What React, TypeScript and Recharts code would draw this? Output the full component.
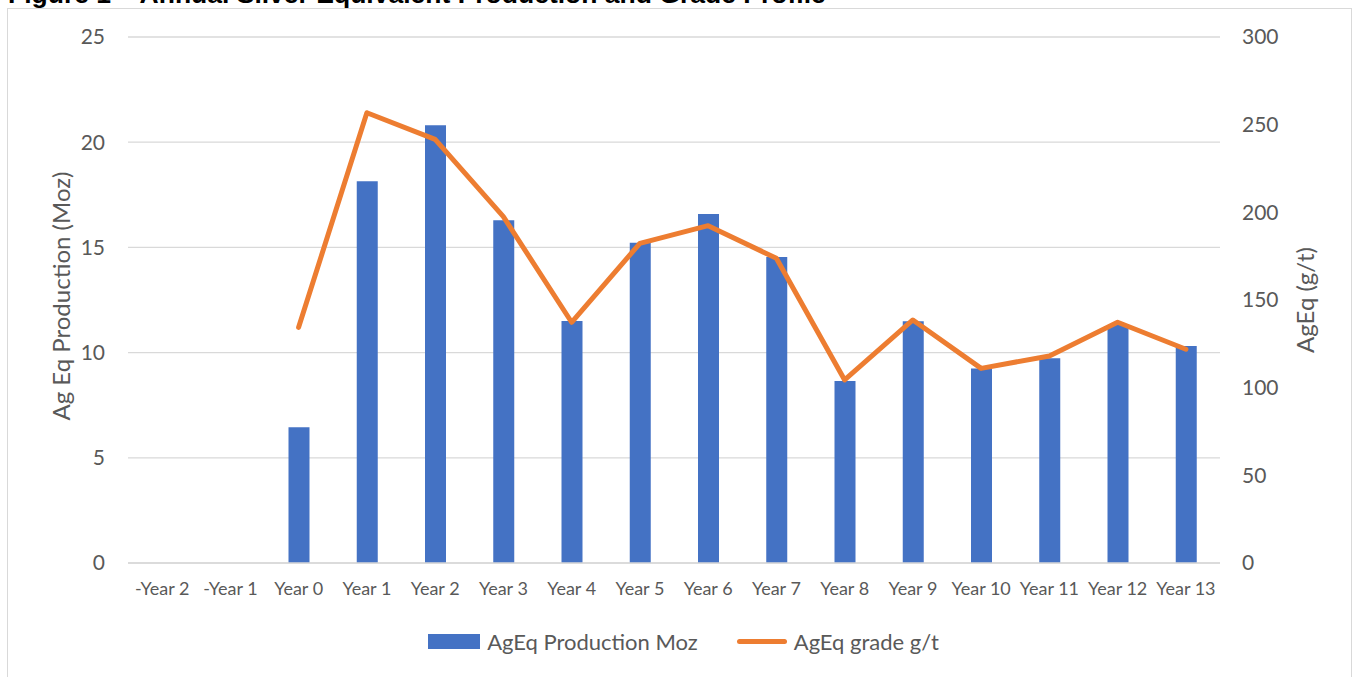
import React from 'react';
import { ComposedChart, Bar, Line, XAxis, YAxis, CartesianGrid, Legend } from 'recharts';

const categories = ['-Year 2', '-Year 1', 'Year 0', 'Year 1', 'Year 2', 'Year 3', 'Year 4', 'Year 5', 'Year 6', 'Year 7', 'Year 8', 'Year 9', 'Year 10', 'Year 11', 'Year 12', 'Year 13'];
const productionMoz = [null, null, 6.45, 18.14, 20.8, 16.29, 11.5, 15.22, 16.59, 14.54, 8.65, 11.49, 9.25, 9.73, 11.31, 10.31];
const gradeGpt = [null, null, 134.4, 256.8, 241.6, 197.5, 137.3, 182.3, 192.4, 173.8, 104.4, 138.6, 111.0, 118.1, 137.3, 121.9];
const leftTicks = [0, 5, 10, 15, 20, 25];
const rightTicks = [0, 50, 100, 150, 200, 250, 300];

const data = categories.map((c, i) => ({ name: c, prod: productionMoz[i], grade: gradeGpt[i] }));

const FONT = 'Lato, "Open Sans", sans-serif';
const TXT = '#595959';

const LeftLabel = (props: any) => {
  const vb = props.viewBox;
  const x = vb.x - 8;
  const y = vb.y + vb.height / 2 - 4;
  return (
    <text x={x} y={y} transform={`rotate(-90, ${x}, ${y})`} textAnchor="middle" dominantBaseline="central" fill={TXT} fontSize={24} fontFamily={FONT}>
      Ag Eq Production (Moz)
    </text>
  );
};

const RightLabel = (props: any) => {
  const vb = props.viewBox;
  const x = vb.x + 84;
  const y = vb.y + vb.height / 2;
  return (
    <text x={x} y={y} transform={`rotate(-90, ${x}, ${y})`} textAnchor="middle" dominantBaseline="central" fill={TXT} fontSize={24} fontFamily={FONT}>
      AgEq (g/t)
    </text>
  );
};

const LegendContent = () => (
  <div style={{ display: 'flex', justifyContent: 'center', alignItems: 'center', height: 26, fontFamily: FONT, fontSize: 22, color: TXT, paddingLeft: 8 }}>
    <span style={{ display: 'inline-block', width: 52, height: 15, background: '#4472C4', marginRight: 7 }} />
    <span style={{ marginRight: 39 }}>AgEq Production Moz</span>
    <span style={{ display: 'inline-block', width: 50, height: 5, background: '#ED7D31', borderRadius: 3, marginRight: 7 }} />
    <span>AgEq grade g/t</span>
  </div>
);

export default function App() {
  return (
    <div style={{ position: 'absolute', left: 0, top: 0, width: 1353, height: 677, overflow: 'hidden', background: '#fff' }}>
      <div style={{ position: 'absolute', left: 8, top: -19, fontFamily: '"Liberation Sans", Arial, sans-serif', fontWeight: 'bold', fontSize: 26.5, lineHeight: '27px', color: '#000', whiteSpace: 'nowrap' }}>
        Figure 1 – Annual Silver Equivalent Production and Grade Profile
      </div>
      <div style={{ position: 'absolute', left: 7, top: 8, width: 1343, height: 680, border: '1px solid #d9d9d9', background: '#fff' }}>
        <ComposedChart width={1343} height={668} data={data} margin={{ top: 28, right: 51, bottom: 74, left: 60 }}>
          <CartesianGrid vertical={false} stroke="#d9d9d9" strokeWidth={1.3} yAxisId="left" />
          <XAxis dataKey="name" interval={0} tickLine={false} tickSize={6} tickMargin={13} height={40}
            axisLine={{ stroke: '#d9d9d9', strokeWidth: 1.5 }}
            tick={{ fill: TXT, fontSize: 18, fontFamily: FONT }} />
          <YAxis yAxisId="left" orientation="left" width={60} domain={[0, 25]} ticks={leftTicks} axisLine={false} tickLine={false} tickSize={6} tickMargin={17}
            tick={{ fill: TXT, fontSize: 21, fontFamily: FONT }} label={<LeftLabel />} />
          <YAxis yAxisId="right" orientation="right" width={80} domain={[0, 300]} ticks={rightTicks} axisLine={false} tickLine={false} tickSize={6} tickMargin={16}
            tick={{ fill: TXT, fontSize: 21, fontFamily: FONT }} label={<RightLabel />} />
          <Bar yAxisId="left" dataKey="prod" fill="#4472C4" barSize={21} isAnimationActive={false} />
          <Line yAxisId="right" dataKey="grade" stroke="#ED7D31" strokeWidth={5} dot={false} strokeLinejoin="round" strokeLinecap="round" isAnimationActive={false} connectNulls={false} />
          <Legend verticalAlign="middle" align="center" layout="horizontal" wrapperStyle={{ top: 619, left: 0, width: 1343, height: 26 }} content={<LegendContent />} />
        </ComposedChart>
      </div>
    </div>
  );
}
